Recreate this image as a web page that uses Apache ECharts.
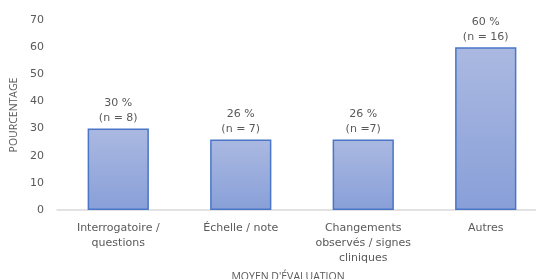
<!DOCTYPE html>
<html><head><meta charset="utf-8">
<script src="https://cdn.jsdelivr.net/npm/echarts@6/dist/echarts.min.js"></script>
<style>html,body{margin:0;padding:0;background:#fff}#c{width:536px;height:279px}</style>
</head><body><div id="c"></div>
<script>
var categories = ["Interrogatoire /\nquestions", "Échelle / note", "Changements\nobservés / signes\ncliniques", "Autres"];
var values = [30, 26, 26, 60];
var nLabels = ["(n = 8)", "(n = 7)", "(n =7)", "(n = 16)"];
var yTicks = [0, 10, 20, 30, 40, 50, 60, 70];

var chart = echarts.init(document.getElementById('c'));
var font = 'Open Sans';
var wide = 'DejaVu Sans';
chart.setOption({
  animation: false,
  grid: {left: 57, right: -11, top: 20, bottom: 69, containLabel: false, outerBoundsMode: 'none'},
  xAxis: {
    type: 'category', data: categories,
    name: "MOYEN D'ÉVALUATION", nameLocation: 'middle', nameGap: 62,
    nameTextStyle: {color: '#595959', fontSize: 10.5, fontFamily: font, padding: [0, 0, 0, -28]},
    axisLine: {lineStyle: {color: '#d9d9d9', width: 1.5}},
    axisTick: {show: false},
    axisLabel: {color: '#595959', fontSize: 11, fontFamily: wide, lineHeight: 15, margin: 11, interval: 0}
  },
  yAxis: {
    type: 'value', min: 0, max: 70, interval: 10,
    name: 'POURCENTAGE', nameLocation: 'middle', nameGap: 28,
    nameTextStyle: {color: '#595959', fontSize: 10.5, fontFamily: font},
    axisLine: {show: false}, axisTick: {show: false},
    splitLine: {show: false},
    axisLabel: {color: '#595959', fontSize: 11, fontFamily: wide, margin: 13,
      formatter: function(v){ return yTicks.indexOf(v) >= 0 ? String(v) : ''; }}
  },
  series: [{
    type: 'bar', data: values, barWidth: '50%',
    itemStyle: {
      color: new echarts.graphic.LinearGradient(0, 0, 0, 1, [
        {offset: 0, color: '#abb9e1'}, {offset: 1, color: '#889fd8'}
      ]),
      borderColor: '#4a76c8', borderWidth: 1.5
    },
    label: {
      show: true, position: 'top', distance: 3,
      color: '#595959', fontSize: 11, fontFamily: wide, lineHeight: 15, align: 'center',
      formatter: function(p){ return p.value + ' %\n' + nLabels[p.dataIndex]; }
    }
  }]
});
</script></body></html>
